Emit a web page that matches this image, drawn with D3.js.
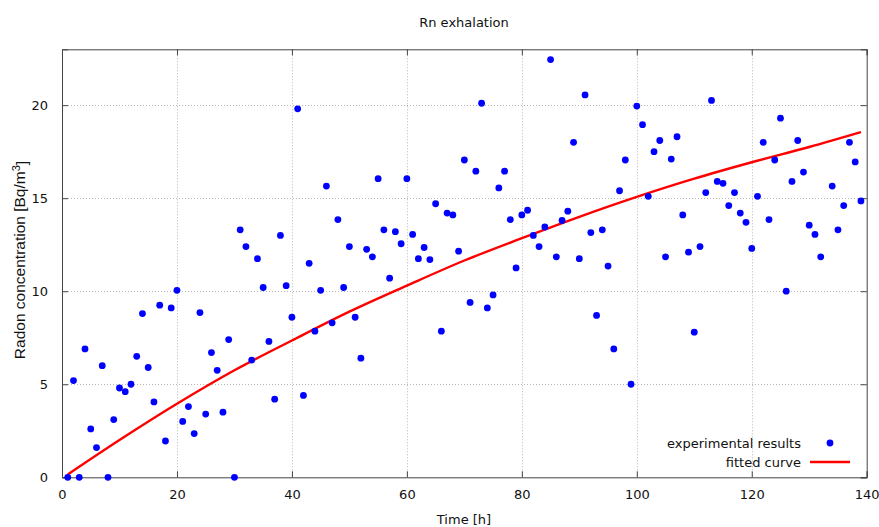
<!DOCTYPE html>
<html>
<head>
<meta charset="utf-8">
<script src="https://cdn.jsdelivr.net/npm/d3@7/dist/d3.min.js"></script>
<style>
  html, body { margin: 0; padding: 0; background: #fff; }
  svg { display: block; }
</style>
</head>
<body>
<svg id="chart" width="879" height="527"></svg>
<script>
// ---- data ----
const hours = [1,2,3,4,5,6,7,8,9,10,11,12,13,14,15,16,17,18,19,20,
  21,22,23,24,25,26,27,28,29,30,31,32,33,34,35,36,37,38,39,40,
  41,42,43,44,45,46,47,48,49,50,51,52,53,54,55,56,57,58,59,60,
  61,62,63,64,65,66,67,68,69,70,71,72,73,74,75,76,77,78,79,80,
  81,82,83,84,85,86,87,88,89,90,91,92,93,94,95,96,97,98,99,100,
  101,102,103,104,105,106,107,108,109,110,111,112,113,114,115,116,117,118,119,120,
  121,122,123,124,125,126,127,128,129,130,131,132,134,135,136,137,138,139];
const radon = [0,5.2,0,6.9,2.6,1.6,6.0,0,3.1,4.8,4.6,5.0,6.5,8.8,5.9,4.05,9.25,1.95,9.1,10.05,
  3.0,3.8,2.35,8.85,3.4,6.7,5.75,3.5,7.4,0,13.3,12.4,6.3,11.75,10.2,7.3,4.2,13.0,10.3,8.6,
  19.8,4.4,11.5,7.85,10.05,15.65,8.3,13.85,10.2,12.4,8.6,6.4,12.25,11.85,16.05,13.3,10.7,13.2,12.55,16.05,
  13.05,11.75,12.35,11.7,14.7,7.85,14.2,14.1,12.15,17.05,9.4,16.45,20.1,9.1,9.8,15.55,16.45,13.85,11.25,14.1,
  14.35,13.0,12.4,13.45,22.45,11.85,13.8,14.3,18.0,11.75,20.55,13.15,8.7,13.3,11.35,6.9,15.4,17.05,5.0,19.95,
  18.95,15.1,17.5,18.1,11.85,17.1,18.3,14.1,12.1,7.8,12.4,15.3,20.25,15.9,15.8,14.6,15.3,14.2,13.7,12.3,
  15.1,18.0,13.85,17.05,19.3,10.0,15.9,18.1,16.4,13.55,13.05,11.85,15.65,13.3,14.6,18.0,16.95,14.85];

const fitHours = [1,10,20,30,40,50,60,70,80,90,100,110,120,130,139];
const fitValues = [0.15,2.0,3.95,5.75,7.35,8.9,10.3,11.65,12.85,14.0,15.07,16.05,16.93,17.75,18.55];

const xTicks = [0,20,40,60,80,100,120,140];
const yTicks = [0,5,10,15,20];

const titleText = "Rn exhalation";
const xLabel = "Time [h]";
const legendLabels = ["experimental results", "fitted curve"];

// ---- layout ----
const svg = d3.select("#chart");
const L = 62, R = 866.7, T = 49.3, B = 477.3;
const x = d3.scaleLinear().domain([0,140]).range([L,R]);
const y = d3.scaleLinear().domain([0,23]).range([B,T]);
const font = "'DejaVu Sans', Verdana, sans-serif";

// grid
const grid = svg.append("g").attr("stroke", "#b8b8b8").attr("stroke-width", 1)
  .attr("stroke-dasharray", "1,2").attr("fill", "none");
grid.selectAll("line.gx").data(xTicks.filter(d => d > 0 && d < 140)).enter()
  .append("line").attr("x1", d => Math.round(x(d)) + 0.5).attr("x2", d => Math.round(x(d)) + 0.5)
  .attr("y1", T).attr("y2", B);
grid.selectAll("line.gy").data(yTicks.filter(d => d > 0)).enter()
  .append("line").attr("y1", d => Math.round(y(d)) + 0.5).attr("y2", d => Math.round(y(d)) + 0.5)
  .attr("x1", L).attr("x2", R);

// axes with inward ticks on all four sides
const axisColor = "#444";
const gB = svg.append("g").attr("transform", `translate(0,${B})`)
  .call(d3.axisBottom(x).tickValues(xTicks).tickSize(-6).tickPadding(12).tickFormat(d3.format("d")));
const gT = svg.append("g").attr("transform", `translate(0,${T})`)
  .call(d3.axisTop(x).tickValues(xTicks).tickSize(-6).tickFormat(""));
const gL = svg.append("g").attr("transform", `translate(${L},0)`)
  .call(d3.axisLeft(y).tickValues(yTicks).tickSize(-6).tickPadding(14).tickFormat(d3.format("d")));
const gR = svg.append("g").attr("transform", `translate(${R},0)`)
  .call(d3.axisRight(y).tickValues(yTicks).tickSize(-6).tickFormat(""));
[gB, gT, gL, gR].forEach(g => {
  g.select(".domain").attr("stroke", axisColor);
  g.selectAll(".tick line").attr("stroke", axisColor);
  g.selectAll(".tick text").attr("fill", "#111").style("font-family", font).style("font-size", "13px");
});
gB.selectAll(".tick text").attr("dy", "0.71em");

// fitted curve
const line = d3.line().x((d) => x(d[0])).y(d => y(d[1])).curve(d3.curveMonotoneX);
svg.append("path").datum(fitHours.map((h, i) => [h, fitValues[i]]))
  .attr("d", line).attr("fill", "none").attr("stroke", "#ff0000").attr("stroke-width", 2.4);

// points
svg.append("g").selectAll("circle").data(hours.map((h, i) => [h, radon[i]])).enter()
  .append("circle").attr("cx", d => x(d[0])).attr("cy", d => y(d[1])).attr("r", 3.4)
  .attr("fill", "#0000ff");

// title
svg.append("text").attr("x", 464).attr("y", 27).attr("text-anchor", "middle")
  .style("font-family", font).style("font-size", "13px").attr("fill", "#111").text(titleText);

// x label
svg.append("text").attr("x", 464).attr("y", 524).attr("text-anchor", "middle")
  .style("font-family", font).style("font-size", "13px").attr("fill", "#111").text(xLabel);

// y label
const yl = svg.append("text").attr("transform", "translate(25,260) rotate(-90)")
  .attr("text-anchor", "middle").style("font-family", "'Liberation Sans', Arial, sans-serif")
  .style("font-size", "15.5px").attr("fill", "#111");
yl.append("tspan").text("Radon concentration [Bq/m");
yl.append("tspan").attr("dy", "-0.45em").style("font-size", "11px").text("3");
yl.append("tspan").attr("dy", "0.45em").text("]");

// legend
const lg = svg.append("g");
lg.append("text").attr("x", 801).attr("y", 443).attr("dy", "0.35em").attr("text-anchor", "end")
  .style("font-family", font).style("font-size", "13px").attr("fill", "#111").text(legendLabels[0]);
lg.append("circle").attr("cx", 830).attr("cy", 443).attr("r", 3.4).attr("fill", "#0000ff");
lg.append("text").attr("x", 801).attr("y", 462).attr("dy", "0.35em").attr("text-anchor", "end")
  .style("font-family", font).style("font-size", "13px").attr("fill", "#111").text(legendLabels[1]);
lg.append("line").attr("x1", 810).attr("x2", 850).attr("y1", 462).attr("y2", 462)
  .attr("stroke", "#ff0000").attr("stroke-width", 2.4);
</script>
</body>
</html>
